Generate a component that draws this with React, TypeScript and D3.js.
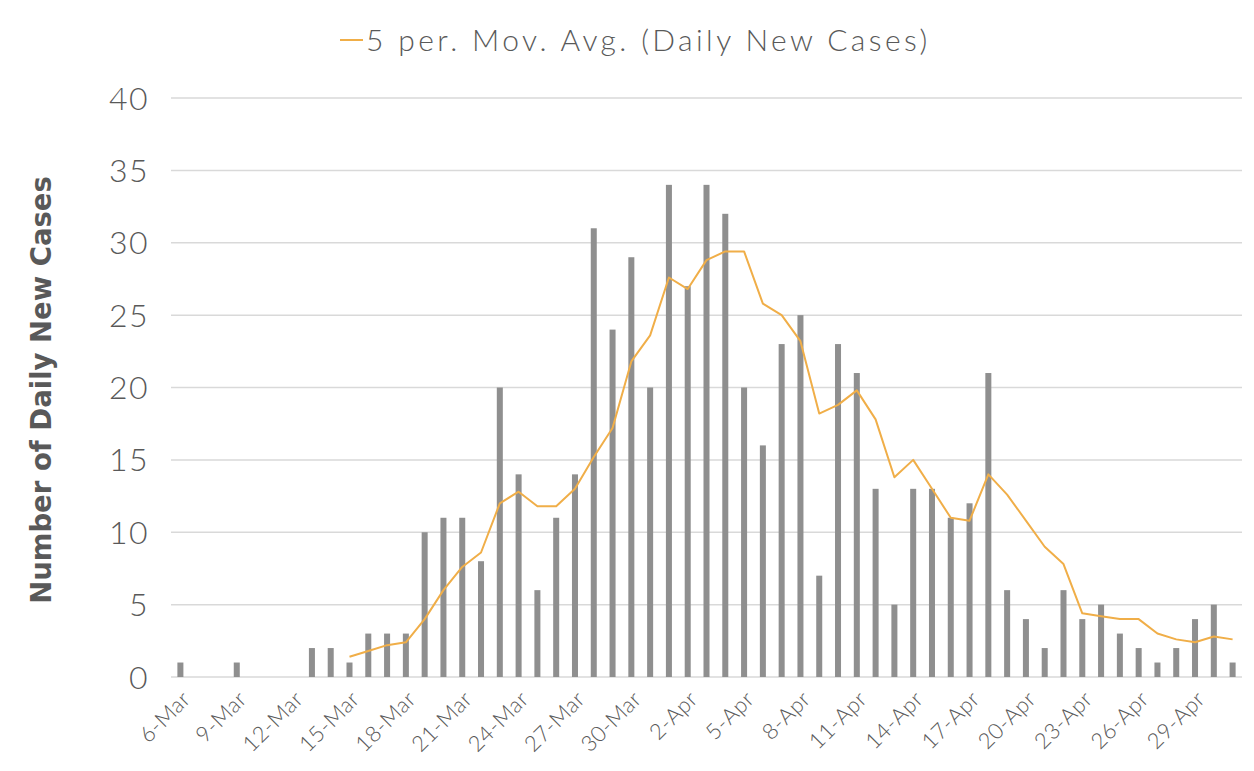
import * as d3 from "d3";

const dates = [
  "6-Mar", "7-Mar", "8-Mar", "9-Mar", "10-Mar", "11-Mar", "12-Mar", "13-Mar", "14-Mar", "15-Mar",
  "16-Mar", "17-Mar", "18-Mar", "19-Mar", "20-Mar", "21-Mar", "22-Mar", "23-Mar", "24-Mar", "25-Mar",
  "26-Mar", "27-Mar", "28-Mar", "29-Mar", "30-Mar", "31-Mar", "1-Apr", "2-Apr", "3-Apr", "4-Apr",
  "5-Apr", "6-Apr", "7-Apr", "8-Apr", "9-Apr", "10-Apr", "11-Apr", "12-Apr", "13-Apr", "14-Apr",
  "15-Apr", "16-Apr", "17-Apr", "18-Apr", "19-Apr", "20-Apr", "21-Apr", "22-Apr", "23-Apr", "24-Apr",
  "25-Apr", "26-Apr", "27-Apr", "28-Apr", "29-Apr", "30-Apr", "1-May",
];

// daily new cases (null = no entry)
const dailyCases: (number | null)[] = [
  1, null, null, 1, null, null, null, 2, 2, 1,
  3, 3, 3, 10, 11, 11, 8, 20, 14, 6,
  11, 14, 31, 24, 29, 20, 34, 27, 34, 32,
  20, 16, 23, 25, 7, 23, 21, 13, 5, 13,
  13, 11, 12, 21, 6, 4, 2, 6, 4, 5,
  3, 2, 1, 2, 4, 5, 1,
];

// 5 period moving average
const movAvg: (number | null)[] = [
  null, null, null, null, null, null, null, null, null, 1.4,
  1.8, 2.2, 2.4, 4, 6, 7.6, 8.6, 12, 12.8, 11.8,
  11.8, 13, 15.2, 17.2, 21.8, 23.6, 27.6, 26.8, 28.8, 29.4,
  29.4, 25.8, 25, 23.2, 18.2, 18.8, 19.8, 17.8, 13.8, 15,
  13, 11, 10.8, 14, 12.6, 10.8, 9, 7.8, 4.4, 4.2,
  4, 4, 3, 2.6, 2.4, 2.8, 2.6,
];

const yTicks = [0, 5, 10, 15, 20, 25, 30, 35, 40];

const W = 1254;
const H = 771;
const FONT = "Lato, 'Open Sans', sans-serif";
const BOLD_FONT = "'DejaVu Sans', sans-serif";
const TXT = "#595959";
const ORANGE = "#F0AE48";

export default function App() {
  const left = 171;
  const right = 1242;
  const top = 98;
  const bottom = 677;

  const x = d3.scaleBand<string>().domain(dates).range([left, right]).paddingInner(0.68).paddingOuter(0.34);
  const y = d3.scaleLinear().domain([0, 40]).range([bottom, top]);
  const cx = (d: string) => (x(d) ?? 0) + x.bandwidth() / 2;

  const line = d3
    .line<number | null>()
    .defined((d) => d != null)
    .x((_d, i) => cx(dates[i]))
    .y((d) => y(d as number));

  return (
    <svg width={W} height={H} style={{ display: "block", position: "absolute", left: 0, top: 0 }}>
      <rect width={W} height={H} fill="#fff" />

      {/* legend */}
      <line x1={340} x2={363} y1={40} y2={40} stroke={ORANGE} strokeWidth={2} />
      <text x={366} y={51} fontFamily={FONT} fontSize={30} fontWeight={300} letterSpacing={3.4} fill={TXT}>
        5 per. Mov. Avg. (Daily New Cases)
      </text>

      {/* grid + y labels */}
      {yTicks.map((t) => (
        <g key={t}>
          <line x1={left} x2={right} y1={y(t)} y2={y(t)} stroke="#d9d9d9" strokeWidth={1.5} />
          <text
            x={149}
            y={y(t)}
            dy="0.36em"
            textAnchor="end"
            fontFamily={FONT}
            fontSize={32}
            fontWeight={300}
            letterSpacing={1.5}
            fill={TXT}
          >
            {t}
          </text>
        </g>
      ))}

      {/* bars */}
      {dailyCases.map((v, i) =>
        v == null ? null : (
          <rect key={i} x={x(dates[i])} y={y(v)} width={x.bandwidth()} height={y(0) - y(v)} fill="#8f8f8f" />
        )
      )}

      {/* moving average */}
      <path d={line(movAvg) ?? ""} fill="none" stroke={ORANGE} strokeWidth={2} strokeLinejoin="round" />

      {/* x labels */}
      {dates.map((d, i) =>
        i % 3 !== 0 ? null : (
          <text
            key={d}
            transform={`translate(${cx(d) + 6},${695}) rotate(-45)`}
            textAnchor="end"
            dy="0.35em"
            fontFamily={FONT}
            fontSize={22}
            fontWeight={300}
            letterSpacing={0.5}
            fill={TXT}
          >
            {d}
          </text>
        )
      )}

      {/* y title */}
      <text
        transform={`translate(51,${(175 + 605) / 2}) rotate(-90)`}
        textAnchor="middle"
        fontFamily={BOLD_FONT}
        fontSize={27.5}
        fontWeight={700}
        fill={TXT}
      >
        Number of Daily  New Cases
      </text>
    </svg>
  );
}
